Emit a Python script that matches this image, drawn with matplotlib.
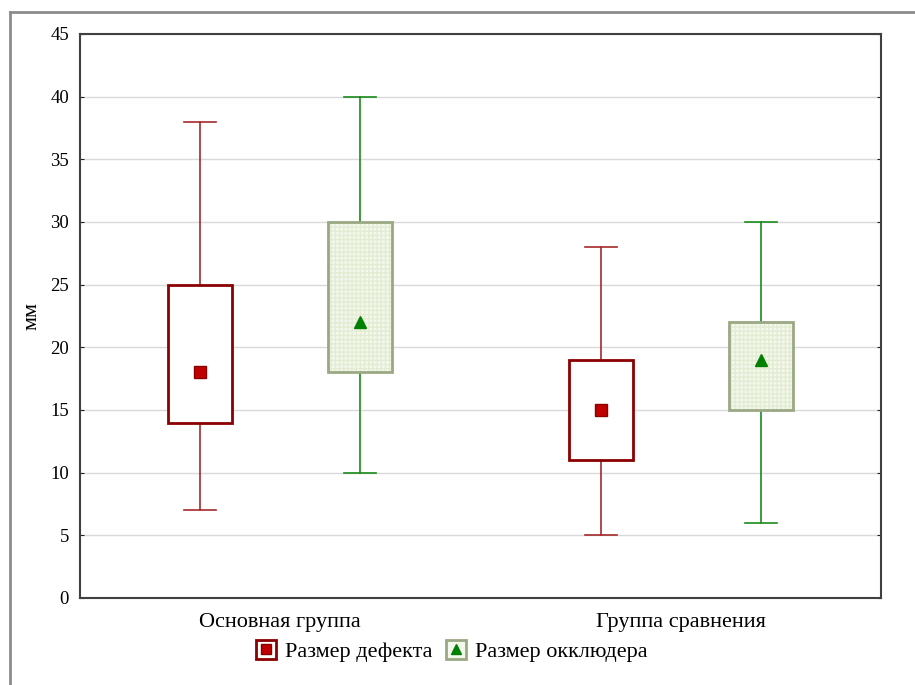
import matplotlib
matplotlib.use("Agg")
import matplotlib.pyplot as plt
from matplotlib.patches import Rectangle
from matplotlib.lines import Line2D
from matplotlib.legend_handler import HandlerTuple

plt.rcParams['font.family'] = ['Liberation Serif', 'DejaVu Serif']

groups = ["Основная группа", "Группа сравнения"]
series = ["Размер дефекта", "Размер окклюдера"]
# per series: [group1, group2]
whislo = {"Размер дефекта": [7, 5], "Размер окклюдера": [10, 6]}
q1 = {"Размер дефекта": [14, 11], "Размер окклюдера": [18, 15]}
mean = {"Размер дефекта": [18, 15], "Размер окклюдера": [22, 19]}
q3 = {"Размер дефекта": [25, 19], "Размер окклюдера": [30, 22]}
whishi = {"Размер дефекта": [38, 28], "Размер окклюдера": [40, 30]}
y_ticks = [0, 5, 10, 15, 20, 25, 30, 35, 40, 45]

styles = {
    "Размер дефекта": dict(edge="#8b0000", face="white", whisk="#a52a2a", marker="s",
                           mcolor="#c00000", medge="#8b0000", offset=-0.2),
    "Размер окклюдера": dict(edge="#9aa884", face="#f4f8ec", whisk="#1a8a1a", marker="^",
                             mcolor="#008000", medge="#008000", offset=0.2),
}

fig = plt.figure(figsize=(9.15, 6.85), dpi=100)
ax = fig.add_axes([80/915, 1-598/685, 801/915, 564/685])

# figure frame (gray)
fig.add_artist(Line2D([10/915, 10/915], [0, 1-12/685], color="#8c8c8c", lw=2, transform=fig.transFigure))
fig.add_artist(Line2D([10/915, 1], [1-12/685, 1-12/685], color="#8c8c8c", lw=2, transform=fig.transFigure))

ax.set_xlim(-0.5, 1.5)
ax.set_ylim(0, 45)
ax.set_yticks(y_ticks)
ax.yaxis.grid(True, color="#d9d9d9", lw=1)
ax.set_axisbelow(True)

bw = 0.16
cap = 0.08
for s in series:
    st = styles[s]
    for i in range(len(groups)):
        x = i + st["offset"]
        # whiskers
        ax.plot([x, x], [whislo[s][i], q1[s][i]], color=st["whisk"], lw=1.2, zorder=2)
        ax.plot([x, x], [q3[s][i], whishi[s][i]], color=st["whisk"], lw=1.2, zorder=2)
        ax.plot([x - cap/2, x + cap/2], [whislo[s][i]]*2, color=st["whisk"], lw=1.2, zorder=2)
        ax.plot([x - cap/2, x + cap/2], [whishi[s][i]]*2, color=st["whisk"], lw=1.2, zorder=2)
        # box
        ax.add_patch(Rectangle((x - bw/2, q1[s][i]), bw, q3[s][i] - q1[s][i],
                               facecolor=st["face"], edgecolor="none", zorder=3))
        if s == "Размер окклюдера":
            ax.add_patch(Rectangle((x - bw/2, q1[s][i]), bw, q3[s][i] - q1[s][i],
                                   facecolor="none", edgecolor="#e3ecd3", hatch="++++", lw=0, zorder=3))
        ax.add_patch(Rectangle((x - bw/2, q1[s][i]), bw, q3[s][i] - q1[s][i],
                               facecolor="none", edgecolor=st["edge"], lw=2, zorder=4))
        ax.plot([x], [mean[s][i]], marker=st["marker"], color=st["mcolor"], mec=st["medge"],
                ms=8, linestyle="none", zorder=5)

ax.set_xticks(range(len(groups)))
ax.set_xticklabels(groups, fontsize=16)
ax.tick_params(axis="x", length=0, pad=11)
ax.tick_params(axis="y", labelsize=13.5, length=3, direction="in", right=True, pad=8, color="#222222")
ax.set_ylabel("мм", fontsize=16, labelpad=6)
for sp in ax.spines.values():
    sp.set_color("#404040")
    sp.set_linewidth(1.5)

handles = []
for s in series:
    st = styles[s]
    rect = Rectangle((0, 0), 1, 1, facecolor=st["face"], edgecolor=st["edge"], lw=2)
    mk = Line2D([], [], marker=st["marker"], color=st["mcolor"], mec=st["medge"], ms=7, linestyle="none")
    handles.append((rect, mk))
fig.legend(handles, series, loc="center", bbox_to_anchor=(452/915, 1-651/685), ncol=2,
           frameon=False, fontsize=16, handler_map={tuple: HandlerTuple(ndivide=1, pad=0)},
           handlelength=0.9, handleheight=0.9, columnspacing=0.6, handletextpad=0.4)

fig.savefig("out.png", dpi=100)
